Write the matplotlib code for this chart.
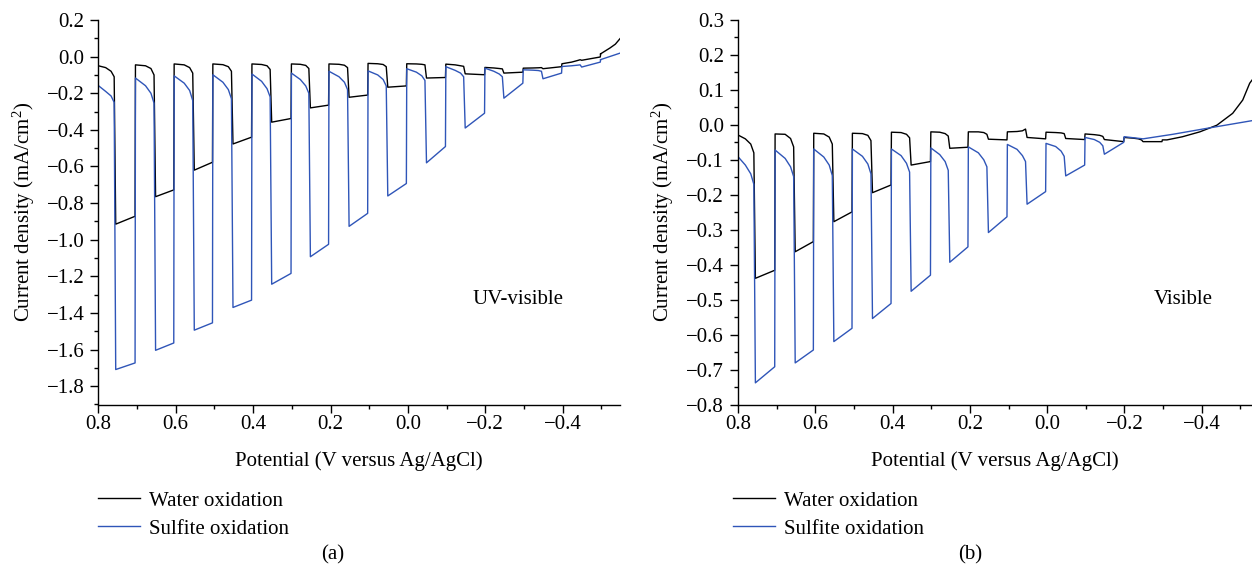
import matplotlib
matplotlib.use("Agg")
import matplotlib.pyplot as plt
from matplotlib.ticker import MultipleLocator, FuncFormatter

plt.rcParams['font.family'] = ['Liberation Serif', 'DejaVu Serif']
plt.rcParams['mathtext.fontset'] = 'custom'
plt.rcParams['mathtext.rm'] = 'Liberation Serif'
plt.rcParams['mathtext.it'] = 'Liberation Serif:italic'
plt.rcParams['axes.unicode_minus'] = True

# ---------------- data ----------------
# light-on / light-off potentials (V vs Ag/AgCl), shared by both panels
light_on = [0.755, 0.652, 0.552, 0.452, 0.352, 0.252, 0.152, 0.052, -0.048, -0.148, -0.248, -0.349, -0.449]
light_off = [0.705, 0.605, 0.505, 0.404, 0.302, 0.205, 0.104, 0.004, -0.097, -0.198, -0.297, -0.397, -0.497]

# dark current: value after light-off (top), 26 mV / 12 mV / 4 mV before the next light-on
# light current: value at light-on (lstart) and at light-off (lend)

# (a) UV-visible, water oxidation
a_water_top = [-0.050, -0.045, -0.040, -0.040, -0.040, -0.040, -0.040, -0.037, -0.039, -0.041, -0.059, -0.063, -0.039]
a_water_shoulder = [-0.060, -0.050, -0.045, -0.044, -0.043, -0.042, -0.042, -0.039, -0.040, -0.045, -0.062, -0.062, -0.030]
a_water_knee = [-0.080, -0.065, -0.060, -0.055, -0.050, -0.048, -0.047, -0.043, -0.042, -0.050, -0.065, -0.061, -0.022]
a_water_pre = [-0.110, -0.100, -0.090, -0.080, -0.070, -0.065, -0.060, -0.055, -0.045, -0.053, -0.067, -0.060, -0.017]
a_water_lstart = [-0.915, -0.765, -0.620, -0.477, -0.358, -0.280, -0.222, -0.167, -0.117, -0.094, -0.090, -0.066, -0.020]
a_water_lend = [-0.872, -0.728, -0.577, -0.440, -0.338, -0.265, -0.210, -0.160, -0.114, -0.099, -0.085, -0.055, -0.002]
a_water_tail_x = [-0.497, -0.522, -0.536, -0.548]
a_water_tail_y = [0.014, 0.047, 0.068, 0.098]

# (a) UV-visible, sulfite oxidation
a_sulf_top = [-0.158, -0.117, -0.105, -0.099, -0.095, -0.090, -0.080, -0.078, -0.066, -0.055, -0.063, -0.072, -0.054]
a_sulf_shoulder = [-0.190, -0.159, -0.145, -0.140, -0.135, -0.125, -0.110, -0.100, -0.085, -0.075, -0.080, -0.074, -0.050]
a_sulf_knee = [-0.215, -0.200, -0.185, -0.180, -0.175, -0.160, -0.140, -0.125, -0.105, -0.090, -0.095, -0.076, -0.047]
a_sulf_pre = [-0.250, -0.254, -0.240, -0.230, -0.220, -0.200, -0.180, -0.160, -0.130, -0.110, -0.110, -0.080, -0.045]
a_sulf_lstart = [-1.709, -1.604, -1.494, -1.370, -1.243, -1.093, -0.927, -0.761, -0.580, -0.390, -0.227, -0.121, -0.057]
a_sulf_lend = [-1.673, -1.564, -1.454, -1.330, -1.184, -1.025, -0.856, -0.693, -0.491, -0.309, -0.145, -0.090, -0.030]
a_sulf_tail_x = [-0.497, -0.548]
a_sulf_tail_y = [-0.017, 0.019]

# (b) Visible, water oxidation
b_water_top = [-0.029, -0.026, -0.024, -0.024, -0.021, -0.020, -0.020, -0.020, -0.021, -0.026, -0.036]
b_water_shoulder = [-0.040, -0.027, -0.026, -0.025, -0.022, -0.021, -0.020, -0.019, -0.022, -0.028, -0.038]
b_water_knee = [-0.055, -0.039, -0.035, -0.030, -0.027, -0.025, -0.022, -0.017, -0.023, -0.030, -0.040]
b_water_pre = [-0.080, -0.063, -0.055, -0.045, -0.037, -0.032, -0.027, -0.012, -0.025, -0.033, -0.043]
b_water_lstart = [-0.439, -0.363, -0.277, -0.194, -0.115, -0.067, -0.041, -0.036, -0.039, -0.042, -0.048]
b_water_lend = [-0.416, -0.334, -0.249, -0.172, -0.105, -0.064, -0.043, -0.040, -0.042, -0.048, -0.048]
b_water_tail_x = [-0.310, -0.350, -0.395, -0.439, -0.480, -0.506, -0.524, -0.530]
b_water_tail_y = [-0.043, -0.034, -0.020, -0.001, 0.033, 0.071, 0.119, 0.128]

# (b) Visible, sulfite oxidation
b_sulf_top = [-0.091, -0.072, -0.069, -0.069, -0.069, -0.066, -0.063, -0.056, -0.053, -0.036]
b_sulf_shoulder = [-0.115, -0.096, -0.092, -0.090, -0.088, -0.085, -0.080, -0.070, -0.062, -0.042]
b_sulf_knee = [-0.140, -0.120, -0.115, -0.112, -0.110, -0.105, -0.100, -0.088, -0.075, -0.050]
b_sulf_pre = [-0.170, -0.148, -0.145, -0.140, -0.135, -0.130, -0.120, -0.105, -0.090, -0.060]
b_sulf_lstart = [-0.738, -0.681, -0.620, -0.554, -0.476, -0.393, -0.308, -0.227, -0.146, -0.084]
b_sulf_lend = [-0.692, -0.644, -0.582, -0.511, -0.430, -0.349, -0.263, -0.191, -0.115, -0.050]
b_sulf_tail_x = [-0.200, -0.248, -0.325, -0.413, -0.530]
b_sulf_tail_y = [-0.034, -0.040, -0.027, -0.010, 0.012]

series_labels = ["Water oxidation", "Sulfite oxidation"]
panel_notes = ["UV-visible", "Visible"]
panel_tags = ["(a)", "(b)"]


def chopped_curve(top, shoulder, knee, pre, lstart, lend, tail_x, tail_y):
    """Vertex list of a chopped-light sweep built from the read values."""
    xs, ys = [], []
    for k in range(len(lstart)):
        xs.append(0.8 if k == 0 else light_off[k - 1] - 0.001)
        ys.append(top[k])
        xs += [light_on[k] + 0.026, light_on[k] + 0.012, light_on[k] + 0.004,
               light_on[k], light_off[k]]
        ys += [shoulder[k], knee[k], pre[k], lstart[k], lend[k]]
    xs += [light_off[len(lstart) - 1] - 0.001] + list(tail_x)
    ys += [tail_y[0]] + list(tail_y)
    return xs, ys


def fmt(v, _pos):
    s = f"{v:.1f}"
    if s == "-0.0":
        s = "0.0"
    return s.replace("-", "\u2212")


BLACK = "#000000"
BLUE = "#2f55b8"
FS = 15

fig = plt.figure(figsize=(12.52, 5.71), dpi=100)
ax_a = fig.add_axes([98.3 / 1252, 1 - 404.5 / 571, 521.7 / 1252, 384.5 / 571])
ax_b = fig.add_axes([738 / 1252, 1 - 404.5 / 571, 514 / 1252, 384.5 / 571])

curves = [
    (ax_a,
     chopped_curve(a_water_top, a_water_shoulder, a_water_knee, a_water_pre,
                   a_water_lstart, a_water_lend, a_water_tail_x, a_water_tail_y),
     chopped_curve(a_sulf_top, a_sulf_shoulder, a_sulf_knee, a_sulf_pre,
                   a_sulf_lstart, a_sulf_lend, a_sulf_tail_x, a_sulf_tail_y)),
    (ax_b,
     chopped_curve(b_water_top, b_water_shoulder, b_water_knee, b_water_pre,
                   b_water_lstart, b_water_lend, b_water_tail_x, b_water_tail_y),
     chopped_curve(b_sulf_top, b_sulf_shoulder, b_sulf_knee, b_sulf_pre,
                   b_sulf_lstart, b_sulf_lend, b_sulf_tail_x, b_sulf_tail_y)),
]

limits = [((0.8, -0.548), (-1.9, 0.2), 0.2, 0.1),
          ((0.8, -0.530), (-0.8, 0.3), 0.1, 0.05)]

for i, (ax, (wx, wy), (sx, sy)) in enumerate(curves):
    lw, = ax.plot(wx, wy, color=BLACK, lw=1.0, label=series_labels[0])
    ls, = ax.plot(sx, sy, color=BLUE, lw=1.0, label=series_labels[1])
    (xl, yl, ymaj, ymin) = limits[i]
    ax.set_xlim(*xl)
    ax.set_ylim(*yl)
    ax.xaxis.set_major_locator(MultipleLocator(0.2))
    ax.xaxis.set_minor_locator(MultipleLocator(0.1))
    ax.yaxis.set_major_locator(MultipleLocator(ymaj))
    ax.yaxis.set_minor_locator(MultipleLocator(ymin))
    ax.xaxis.set_major_formatter(FuncFormatter(fmt))
    ax.yaxis.set_major_formatter(FuncFormatter(fmt))
    for s in ['top', 'right']:
        ax.spines[s].set_visible(False)
    for s in ['left', 'bottom']:
        ax.spines[s].set_linewidth(1.0)
    ax.tick_params(which='major', direction='out', length=6, width=1.0,
                   labelsize=FS, pad=1.5)
    ax.tick_params(which='minor', direction='out', length=3, width=1.0)
    ax.tick_params(axis='y', which='major', pad=4)
    ax.set_xlabel("Potential (V versus Ag/AgCl)", fontsize=FS)
    ax.xaxis.set_label_coords(0.5, -0.122)
    ax.set_ylabel("Current density (mA/cm$^{2}$)", fontsize=FS)
    ax.yaxis.set_label_coords(-0.118 if i == 0 else -0.121, 0.5)
    ax.text(0.805 if i == 0 else 0.866, 0.272, panel_notes[i], transform=ax.transAxes,
            ha='center', va='center', fontsize=FS)
    ax.legend(handles=[lw, ls], loc='upper left',
              bbox_to_anchor=((98 if i == 0 else 733) / 1252, 1 - 491 / 571),
              bbox_transform=fig.transFigure, frameon=False, borderaxespad=0,
              borderpad=0, handlelength=2.0, handletextpad=0.45, labelspacing=0.4,
              fontsize=FS)
    fig.text((333 if i == 0 else 970) / 1252, 1 - 555 / 571, panel_tags[i],
             ha='center', va='center', fontsize=FS)

fig.savefig("out.png", dpi=100)
